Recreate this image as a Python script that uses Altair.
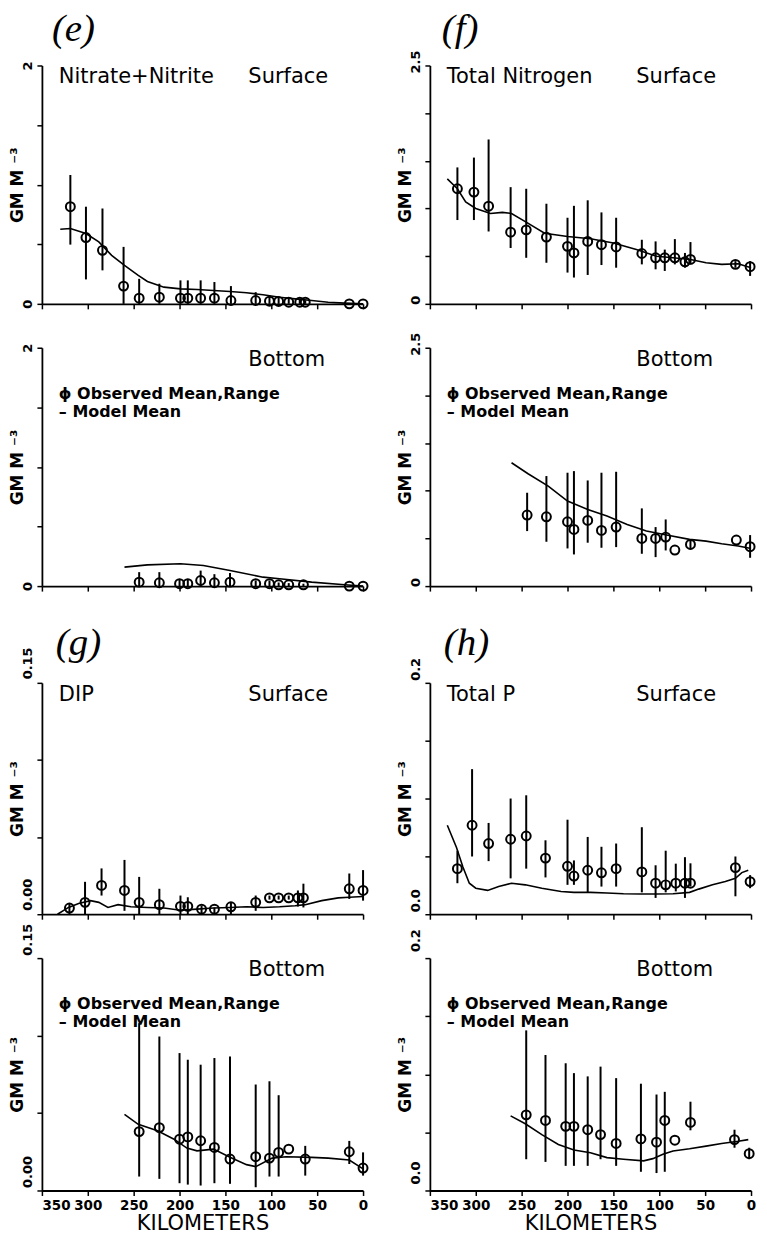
import altair as alt
import pandas as pd

FONT = "DejaVu Sans"

# ---------------- data ----------------
# (e) Nitrate+Nitrite, surface
e_s_km = [319, 302, 284, 261, 244, 222, 199, 191, 177, 162, 144, 117, 102, 92, 81, 69, 63, 15, 0]
e_s_mean = [0.815, 0.556, 0.449, 0.149, 0.048, 0.056, 0.048, 0.048, 0.048, 0.048, 0.028, 0.028, 0.022, 0.020, 0.014, 0.014, 0.014, 0.0, 0.0]
e_s_lo = [0.497, 0.205, 0.281, 0.0, 0.0, 0.0, 0.0, 0.0, 0.0, 0.0, 0.0, 0.0, 0.0, 0.0, 0.0, 0.0, 0.0, 0.0, 0.0]
e_s_hi = [1.081, 0.815, 0.80, 0.478, 0.21, 0.169, 0.197, 0.197, 0.197, 0.183, 0.149, 0.098, 0.07, 0.056, 0.042, 0.042, 0.03, 0.0, 0.0]
e_s_mkm = [330, 319, 302, 288, 274, 260, 245, 235, 217, 199, 181, 163, 145, 127, 109, 91, 74, 56, 38, 20, 0]
e_s_model = [0.626, 0.632, 0.59, 0.52, 0.407, 0.323, 0.239, 0.188, 0.14, 0.126, 0.12, 0.112, 0.104, 0.093, 0.076, 0.056, 0.042, 0.028, 0.014, 0.006, 0.0]

# (e) Nitrate+Nitrite, bottom
e_b_km = [244, 222, 200, 191, 177, 162, 145, 117, 102, 92, 81, 65, 15, 0]
e_b_mean = [0.033, 0.028, 0.02, 0.02, 0.047, 0.028, 0.033, 0.02, 0.02, 0.011, 0.011, 0.011, 0.0, 0.0]
e_b_lo = [0.0, 0.0, 0.0, 0.0, 0.0, 0.0, 0.0, 0.0, 0.0, 0.0, 0.0, 0.0, 0.0, 0.0]
e_b_hi = [0.117, 0.117, 0.06, 0.06, 0.13, 0.10, 0.11, 0.047, 0.047, 0.03, 0.025, 0.02, 0.0, 0.0]
e_b_mkm = [260, 235, 199, 174, 145, 109, 91, 56, 20, 0]
e_b_model = [0.159, 0.178, 0.187, 0.173, 0.131, 0.075, 0.061, 0.033, 0.011, 0.0]

# (f) Total Nitrogen, surface
f_s_km = [320, 302, 286, 262, 245, 223, 200, 193, 178, 163, 147, 119, 104, 94, 83, 72, 66, 17, 1]
f_s_mean = [1.207, 1.172, 1.024, 0.752, 0.776, 0.70, 0.603, 0.534, 0.655, 0.62, 0.597, 0.528, 0.483, 0.483, 0.483, 0.441, 0.466, 0.414, 0.39]
f_s_lo = [0.879, 0.879, 0.759, 0.586, 0.483, 0.431, 0.328, 0.276, 0.303, 0.407, 0.379, 0.414, 0.362, 0.345, 0.414, 0.379, 0.414, 0.379, 0.293]
f_s_hi = [1.431, 1.534, 1.724, 1.224, 1.207, 1.05, 0.903, 1.028, 1.086, 0.959, 0.903, 0.672, 0.655, 0.569, 0.679, 0.534, 0.648, 0.448, 0.448]
f_s_mkm = [331, 320, 311, 300, 284, 271, 261, 246, 225, 200, 175, 150, 125, 103, 85, 66, 49, 32, 14, 0]
f_s_model = [1.31, 1.207, 1.07, 1.0, 0.948, 0.959, 0.948, 0.862, 0.741, 0.707, 0.683, 0.638, 0.569, 0.5, 0.483, 0.466, 0.431, 0.414, 0.42, 0.379]

# (f) Total Nitrogen, bottom
f_b_km = [244, 223, 200, 193, 178, 163, 147, 119, 104, 93, 83, 66, 16, 1]
f_b_mean = [0.745, 0.727, 0.675, 0.594, 0.689, 0.584, 0.619, 0.5, 0.5, 0.514, 0.378, 0.437, 0.483, 0.413]
f_b_lo = [0.577, 0.465, 0.395, 0.332, 0.455, 0.402, 0.409, 0.339, 0.304, 0.374, 0.378, 0.385, 0.483, 0.297]
f_b_hi = [0.979, 1.154, 1.189, 1.206, 1.108, 1.189, 1.199, 0.815, 0.619, 0.699, 0.378, 0.49, 0.483, 0.535]
f_b_mkm = [261, 243, 221, 200, 178, 157, 135, 114, 92, 67, 49, 32, 14, 0]
f_b_model = [1.294, 1.178, 1.049, 0.892, 0.804, 0.734, 0.647, 0.577, 0.535, 0.49, 0.472, 0.444, 0.42, 0.395]

# (g) DIP, surface
g_s_km = [320, 303, 285, 260, 244, 222, 199, 191, 176, 162, 144, 117, 102, 92, 81, 71, 65, 15, 0]
g_s_mean = [0.004, 0.0077, 0.0187, 0.0154, 0.0077, 0.0062, 0.0051, 0.0051, 0.0033, 0.0033, 0.0048, 0.0077, 0.0106, 0.0106, 0.0106, 0.0106, 0.0106, 0.0165, 0.0154]
g_s_lo = [0.0, 0.0, 0.0121, 0.0022, 0.0, 0.0, 0.0, 0.0, 0.0, 0.0, 0.0, 0.0022, 0.0095, 0.0095, 0.0095, 0.005, 0.0044, 0.0099, 0.0088]
g_s_hi = [0.0066, 0.021, 0.0297, 0.0352, 0.0242, 0.0165, 0.0121, 0.011, 0.0055, 0.0044, 0.0077, 0.0121, 0.0121, 0.0121, 0.0121, 0.0154, 0.0198, 0.0264, 0.0286]
g_s_mkm = [333, 321, 310, 297, 288, 278, 267, 253, 235, 217, 199, 181, 163, 145, 127, 109, 91, 74, 63, 45, 27, 15, 0]
g_s_model = [0.0, 0.0044, 0.007, 0.0088, 0.0077, 0.0044, 0.0062, 0.0048, 0.0044, 0.004, 0.0026, 0.0033, 0.004, 0.0044, 0.0048, 0.0044, 0.0048, 0.0055, 0.0062, 0.0088, 0.0106, 0.011, 0.0115]

# (g) DIP, bottom
g_b_km = [244, 222, 200, 191, 177, 162, 145, 117, 102, 92, 81, 63, 15, 0]
g_b_mean = [0.038, 0.0406, 0.0331, 0.0346, 0.0321, 0.0278, 0.0203, 0.0218, 0.0209, 0.0246, 0.0267, 0.0203, 0.025, 0.0145]
g_b_lo = [0.009, 0.0075, 0.0047, 0.0038, 0.0032, 0.0047, 0.0043, 0.0021, 0.009, 0.009, 0.0267, 0.0096, 0.0171, 0.0096]
g_b_hi = [0.108, 0.0994, 0.0887, 0.0844, 0.0812, 0.0855, 0.0865, 0.0684, 0.0705, 0.0615, 0.0267, 0.0288, 0.032, 0.0246]
g_b_mkm = [260, 245, 224, 206, 192, 181, 163, 145, 127, 117, 99, 84, 56, 38, 15, 0]
g_b_model = [0.0491, 0.0427, 0.0385, 0.0331, 0.0274, 0.0256, 0.0267, 0.0214, 0.0167, 0.0154, 0.0209, 0.0218, 0.0214, 0.0209, 0.0197, 0.0139]

# (h) Total P, surface
h_s_km = [320, 304, 286, 262, 245, 224, 200, 193, 178, 163, 147, 119, 104, 93, 82, 72, 66, 17, 1]
h_s_mean = [0.0394, 0.0769, 0.0611, 0.0648, 0.0676, 0.0485, 0.0414, 0.033, 0.038, 0.0358, 0.0394, 0.0366, 0.0268, 0.0254, 0.0268, 0.0268, 0.0268, 0.0403, 0.0282]
h_s_lo = [0.0268, 0.0499, 0.0459, 0.031, 0.0394, 0.0318, 0.0254, 0.0254, 0.0189, 0.0239, 0.0239, 0.0189, 0.0141, 0.0189, 0.0197, 0.0141, 0.024, 0.0155, 0.0225]
h_s_hi = [0.0549, 0.1254, 0.0789, 0.1, 0.1028, 0.0639, 0.0817, 0.0465, 0.0668, 0.0583, 0.0611, 0.0752, 0.0423, 0.0549, 0.0437, 0.0493, 0.044, 0.0499, 0.0338]
h_s_mkm = [331, 321, 314, 307, 300, 287, 275, 261, 246, 228, 207, 193, 175, 157, 139, 121, 103, 85, 67, 57, 42, 28, 17, 10, 3]
h_s_model = [0.0769, 0.0577, 0.0408, 0.0268, 0.0225, 0.0206, 0.0239, 0.0268, 0.0254, 0.0225, 0.0197, 0.0189, 0.0189, 0.0183, 0.0177, 0.0175, 0.0175, 0.0177, 0.0189, 0.0217, 0.0254, 0.0282, 0.031, 0.036, 0.038]

# (h) Total P, bottom
h_b_km = [245, 224, 202, 193, 178, 164, 147, 120, 103, 94, 83, 66, 18, 2]
h_b_mean = [0.0651, 0.0603, 0.0552, 0.0552, 0.0523, 0.0481, 0.0405, 0.0444, 0.0416, 0.0603, 0.0433, 0.0586, 0.0438, 0.0317]
h_b_lo = [0.0269, 0.0246, 0.0212, 0.0212, 0.0212, 0.0269, 0.0212, 0.0161, 0.015, 0.0161, 0.0433, 0.0518, 0.0368, 0.0269]
h_b_hi = [0.1378, 0.1166, 0.1095, 0.101, 0.0982, 0.1066, 0.0967, 0.0919, 0.0826, 0.0849, 0.0433, 0.0764, 0.0523, 0.0368]
h_b_mkm = [262, 246, 228, 210, 193, 175, 157, 139, 117, 107, 96, 85, 67, 49, 32, 14, 3]
h_b_model = [0.0642, 0.0574, 0.0481, 0.0396, 0.0348, 0.0325, 0.0283, 0.0269, 0.0255, 0.0274, 0.0311, 0.034, 0.0359, 0.0382, 0.0405, 0.0424, 0.0438]

x_ticks = [350, 300, 250, 200, 150, 100, 50, 0]

W = 322


def panel(km, mean, lo, hi, mkm, mval, ymax, ystep, lab0, labtop, plot_h, extra_top=0,
          name=None, pos="Surface", letter=None, letter_dx=10, letter_dy=-24,
          legend=False, xlabels=False, ylab_offset=0):
    obs = pd.DataFrame({"km": km, "mean": mean, "lo": lo, "hi": hi})
    mod = pd.DataFrame({"km": mkm, "val": mval})
    nstep = int(round(ymax / ystep))
    yvals = [round(i * ystep, 4) for i in range(nstep + 1)]
    total_h = plot_h + extra_top

    xscale = alt.Scale(domain=[0, 350], reverse=True, nice=False, zero=False)
    yscale = alt.Scale(domain=[0, ymax], nice=False, zero=True,
                       range=[total_h, extra_top])

    common = dict(domain=True, domainColor="black", domainWidth=1.8,
                  ticks=True, tickColor="black", tickWidth=1.5, tickSize=5, grid=False)
    if xlabels:
        xaxis = alt.Axis(values=x_ticks, title="KILOMETERS", titleFont=FONT,
                         titleFontSize=21, titleFontWeight="normal", titlePadding=1,
                         titleColor="black",
                         labelFont=FONT, labelFontSize=13.5, labelFontWeight="bold",
                         labelColor="black",
                         labelFlush=False, labelPadding=3, labelOverlap=False,
                         labelAlign={"condition": {"test": "datum.value == 350", "value": "left"},
                                     "value": "center"},
                         **common)
    else:
        xaxis = alt.Axis(values=x_ticks, labels=False, title=None, **common)

    expr = ("datum.value == 0 ? '%s' : (abs(datum.value - %s) < 1e-6 ? '%s' : '')"
            % (lab0, ymax, labtop))
    yaxis = alt.Axis(values=yvals, labelExpr=expr, title="GM M \u207b\u00b3",
                     titleFont=FONT, titleFontSize=17, titleFontWeight="bold",
                     titlePadding=-5, titleAngle=-90, titleColor="black",
                     labelFont=FONT, labelFontSize=13, labelFontWeight="bold",
                     labelColor="black",
                     labelAngle=-90, labelBaseline="bottom", labelAlign="center",
                     labelPadding=2, labelOffset=ylab_offset,
                     labelFlush=False, labelOverlap=False, **common)

    x = alt.X("km:Q", scale=xscale, axis=xaxis)
    y = alt.Y("val:Q", scale=yscale, axis=yaxis)

    line = alt.Chart(mod).mark_line(color="black", strokeWidth=1.6).encode(x=x, y=y)
    bars = alt.Chart(obs).mark_rule(color="black", strokeWidth=2).encode(
        x="km:Q", y="lo:Q", y2="hi:Q")
    pts = alt.Chart(obs).mark_point(shape="circle", filled=False, color="black",
                                    strokeWidth=2, size=80, opacity=1).encode(
        x="km:Q", y="mean:Q")

    layers = [line, bars, pts]

    def txt(s, xpx, ypx, size=21, weight="normal", font=FONT, style="normal"):
        return alt.Chart(pd.DataFrame({"t": [s]})).mark_text(
            font=font, fontSize=size, fontWeight=weight, fontStyle=style, align="left",
            baseline="alphabetic", color="black").encode(
            text="t:N", x=alt.value(xpx), y=alt.value(ypx))

    t0 = extra_top
    if name:
        layers.append(txt(name, 17, t0 + 18))
    layers.append(txt(pos, 207, t0 + 18))
    if legend:
        layers.append(txt("\u03d5 Observed Mean,Range", 17, t0 + 51, size=16, weight="bold"))
        layers.append(txt("\u2013 Model Mean", 17, t0 + 69, size=16, weight="bold"))
    if letter:
        layers.append(txt(letter, letter_dx, t0 + letter_dy, size=39,
                          font="Liberation Serif", style="italic"))

    return alt.layer(*layers).properties(width=W, height=total_h)


EXTRA = 53  # room above the DIP / Total P panels for their panel letters

e_s = panel(e_s_km, e_s_mean, e_s_lo, e_s_hi, e_s_mkm, e_s_model, 2.0, 0.5, "0", "2", 239,
            name="Nitrate+Nitrite", letter="(e)", letter_dx=10, letter_dy=-25)
f_s = panel(f_s_km, f_s_mean, f_s_lo, f_s_hi, f_s_mkm, f_s_model, 2.5, 0.5, "0", "2.5", 239,
            name="Total Nitrogen", letter="(f)", letter_dx=12, letter_dy=-25, ylab_offset=-4)
e_b = panel(e_b_km, e_b_mean, e_b_lo, e_b_hi, e_b_mkm, e_b_model, 2.0, 0.5, "0", "2", 239,
            pos="Bottom", legend=True)
f_b = panel(f_b_km, f_b_mean, f_b_lo, f_b_hi, f_b_mkm, f_b_model, 2.5, 0.5, "0", "2.5", 239,
            pos="Bottom", legend=True, ylab_offset=-4)
g_s = panel(g_s_km, g_s_mean, g_s_lo, g_s_hi, g_s_mkm, g_s_model, 0.15, 0.05, "0.00", "0.15", 232,
            extra_top=EXTRA, name="DIP", letter="(g)", letter_dx=14, letter_dy=-28,
            ylab_offset=-20)
h_s = panel(h_s_km, h_s_mean, h_s_lo, h_s_hi, h_s_mkm, h_s_model, 0.2, 0.05, "0.0", "0.2", 232,
            extra_top=EXTRA, name="Total P", letter="(h)", letter_dx=14, letter_dy=-28,
            ylab_offset=-14)
g_b = panel(g_b_km, g_b_mean, g_b_lo, g_b_hi, g_b_mkm, g_b_model, 0.15, 0.05, "0.00", "0.15", 233,
            pos="Bottom", legend=True, xlabels=True, ylab_offset=-19)
h_b = panel(h_b_km, h_b_mean, h_b_lo, h_b_hi, h_b_mkm, h_b_model, 0.2, 0.05, "0.0", "0.2", 233,
            pos="Bottom", legend=True, xlabels=True, ylab_offset=-18)

chart = alt.concat(e_s, f_s, e_b, f_b, g_s, h_s, g_b, h_b, columns=2,
                   spacing={"row": 44, "column": 67}, bounds="flush").properties(
    padding={"left": 1, "top": 0, "right": 0, "bottom": 0},
    background="white"
).configure_view(stroke="transparent", strokeWidth=0)

chart.save("out.html", embed_options={"renderer": "svg", "actions": False})
